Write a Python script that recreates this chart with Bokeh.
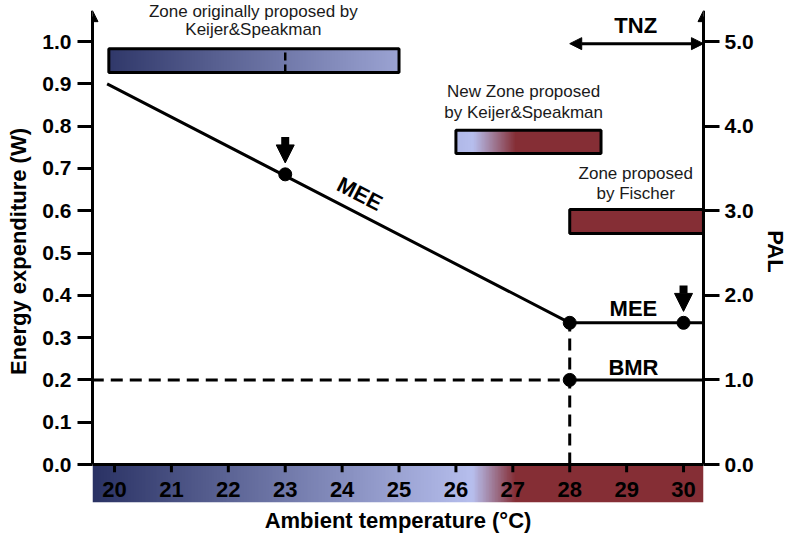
import numpy as np
from bokeh.plotting import figure
from bokeh.models import (Range1d, LinearAxis, FixedTicker, PrintfTickFormatter,
                          Arrow, NormalHead, Span)
from bokeh.core.properties import value
from bokeh.embed import file_html
from bokeh.resources import INLINE

# ---------------- data ----------------
temp_ticks = [20, 21, 22, 23, 24, 25, 26, 27, 28, 29, 30]
energy_ticks = [0.0, 0.1, 0.2, 0.3, 0.4, 0.5, 0.6, 0.7, 0.8, 0.9, 1.0]
pal_ticks = [0.0, 1.0, 2.0, 3.0, 4.0, 5.0]

mee_x = [19.87, 28.0, 30.35]
mee_y = [0.90, 0.335, 0.335]
bmr_dash_x = [19.6, 28.0]
bmr_solid_x = [28.0, 30.35]
bmr_value = 0.20
tnz_x = [28.0, 30.35]
tnz_level = 0.995

point_x = [23.0, 28.0, 30.0, 28.0]
point_y = [0.686, 0.335, 0.335, 0.20]
marked_x = [23.0, 30.0]
marked_y = [0.686, 0.335]

zone_x0 = [19.9, 26.0, 28.0]
zone_x1 = [25.0, 28.55, 30.35]
zone_y0 = [0.927, 0.735, 0.546]
zone_y1 = [0.983, 0.790, 0.603]
zone_label_1 = ["Zone originally proposed by", "Keijer&Speakman"]
zone_label_2 = ["New Zone proposed", "by Keijer&Speakman"]
zone_label_3 = ["Zone proposed", "by Fischer"]
old_threshold = 23.0

# temperature colour scale (navy -> lavender -> dark red)
grad_t = [19.6, 26.3, 27.05, 30.4]
grad_r = [42, 183, 133, 133]
grad_g = [50, 191, 46, 46]
grad_b = [100, 238, 53, 53]

X0, X1 = 19.613, 30.351
Y0, Y1 = -0.0898, 1.097
FONT = "Liberation Sans"


def grad_img(a, b, n=400):
    t = np.linspace(a, b, n)
    r = np.interp(t, grad_t, grad_r).astype(np.uint32)
    g = np.interp(t, grad_t, grad_g).astype(np.uint32)
    bl = np.interp(t, grad_t, grad_b).astype(np.uint32)
    img = (255 << 24) | (bl << 16) | (g << 8) | r
    return img.reshape(1, n).astype(np.uint32)


p = figure(width=791, height=538, output_backend="svg", toolbar_location=None,
           x_range=Range1d(X0, X1), y_range=Range1d(Y0, Y1),
           min_border_left=92, min_border_right=88, min_border_top=0,
           min_border_bottom=36)
p.extra_y_ranges = {"pal": Range1d(Y0 * 5, Y1 * 5)}
p.grid.visible = False
p.outline_line_color = None
p.background_fill_color = "white"

# colour band under the axis
p.image_rgba(image=[grad_img(X0, X1)], x=X0, y=Y0, dw=X1 - X0, dh=0 - Y0)
# x tick marks into the band
p.segment(x0=temp_ticks, y0=[0] * len(temp_ticks), x1=temp_ticks,
          y1=[-0.018] * len(temp_ticks), line_width=3, line_color="black")
p.add_layout(Span(location=0, dimension="width", line_width=3, line_color="black"))

# zone bars
for i in range(3):
    p.image_rgba(image=[grad_img(zone_x0[i], zone_x1[i])], x=zone_x0[i], y=zone_y0[i],
                 dw=zone_x1[i] - zone_x0[i], dh=zone_y1[i] - zone_y0[i])
p.quad(left=zone_x0, right=zone_x1, bottom=zone_y0, top=zone_y1,
       fill_color=None, line_color="black", line_width=3)
p.segment(x0=[old_threshold], x1=[old_threshold], y0=[zone_y0[0]], y1=[zone_y1[0]],
          line_width=2.5, line_color="black", line_dash="8 4")

# lines
p.line(mee_x, mee_y, line_width=3, line_color="black")
p.line(bmr_dash_x, [bmr_value] * 2, line_width=3, line_color="black", line_dash="12 7")
p.line(bmr_solid_x, [bmr_value] * 2, line_width=3, line_color="black")
p.line([mee_x[1], mee_x[1]], [0, mee_y[1]], line_width=3, line_color="black",
       line_dash="12 7")
p.scatter(point_x, point_y, size=13, color="black")

# down arrows
for mx, my in zip(marked_x, marked_y):
    p.add_layout(Arrow(end=NormalHead(size=18, fill_color="black", line_color="black"),
                       x_start=mx, y_start=my + 0.088, x_end=mx, y_end=my + 0.027,
                       line_width=8, line_color="black"))

# TNZ double arrow
p.add_layout(Arrow(start=NormalHead(size=12, fill_color="black", line_color="black"),
                   end=NormalHead(size=12, fill_color="black", line_color="black"),
                   x_start=tnz_x[0], y_start=tnz_level, x_end=tnz_x[1], y_end=tnz_level,
                   line_width=3, line_color="black"))

# axis arrow tips
for ax_x in [X0, X1]:
    p.add_layout(Arrow(end=NormalHead(size=11, fill_color="black", line_color="black"),
                       x_start=ax_x, y_start=1.04, x_end=ax_x, y_end=1.073,
                       line_width=3, line_color="black"))

# texts
def txt(x, y, s, size, bold=False, angle=0.0, color="#1a1a1a"):
    p.text(x=[x], y=[y], text=[s], text_font=value(FONT), text_font_size=f"{size}px",
           text_font_style="bold" if bold else "normal", text_align="center",
           text_baseline="middle", angle=angle, text_color=color)

txt(22.44, 1.071, zone_label_1[0], 17)
txt(22.44, 1.028, zone_label_1[1], 17)
txt(27.19, 0.882, zone_label_2[0], 17)
txt(27.19, 0.832, zone_label_2[1], 17)
txt(29.16, 0.688, zone_label_3[0], 17)
txt(29.16, 0.641, zone_label_3[1], 17)
txt(29.16, 1.038, "TNZ", 22, bold=True, color="black")
txt(24.31, 0.640, "MEE", 22, bold=True, angle=-0.477, color="black")
txt(29.12, 0.369, "MEE", 22, bold=True, color="black")
txt(29.12, 0.229, "BMR", 22, bold=True, color="black")

# left axis
ya = p.yaxis[0]
ya.ticker = FixedTicker(ticks=energy_ticks)
ya.formatter = PrintfTickFormatter(format="%.1f")
ya.bounds = (0, 1.06)
ya.axis_label = "Energy expenditure (W)"

# right axis
ra = LinearAxis(y_range_name="pal", ticker=FixedTicker(ticks=pal_ticks),
                formatter=PrintfTickFormatter(format="%.1f"), bounds=(0, 5.3),
                axis_label="PAL")
p.add_layout(ra, "right")

for ax in [ya, ra]:
    ax.axis_line_width = 3
    ax.axis_line_color = "black"
    ax.major_tick_line_width = 3
    ax.major_tick_out = 15
    ax.major_tick_in = 0
    ax.minor_tick_line_color = None
    ax.major_label_standoff = 6
    ax.axis_label_standoff = 8
ra.major_tick_out = 16
ra.major_label_standoff = 5
ra.axis_label_standoff = 6

# bottom axis (labels inside colour band)
xa = p.xaxis[0]
xa.ticker = FixedTicker(ticks=temp_ticks)
xa.axis_line_color = None
xa.major_tick_line_color = None
xa.minor_tick_line_color = None
xa.major_tick_out = 0
xa.major_tick_in = 0
xa.major_label_standoff = -21
xa.axis_label = "Ambient temperature (°C)"
xa.axis_label_standoff = 8

for ax in [ya, ra, xa]:
    ax.major_label_text_font = FONT
    ax.major_label_text_font_style = "bold"
    ax.major_label_text_font_size = "21px"
    ax.major_label_text_color = "black"
    ax.axis_label_text_font = FONT
    ax.axis_label_text_font_style = "bold"
    ax.axis_label_text_font_size = "22px"
    ax.axis_label_text_color = "black"
xa.major_label_text_font_size = "22px"

open("out.html", "w").write(file_html(p, INLINE))
